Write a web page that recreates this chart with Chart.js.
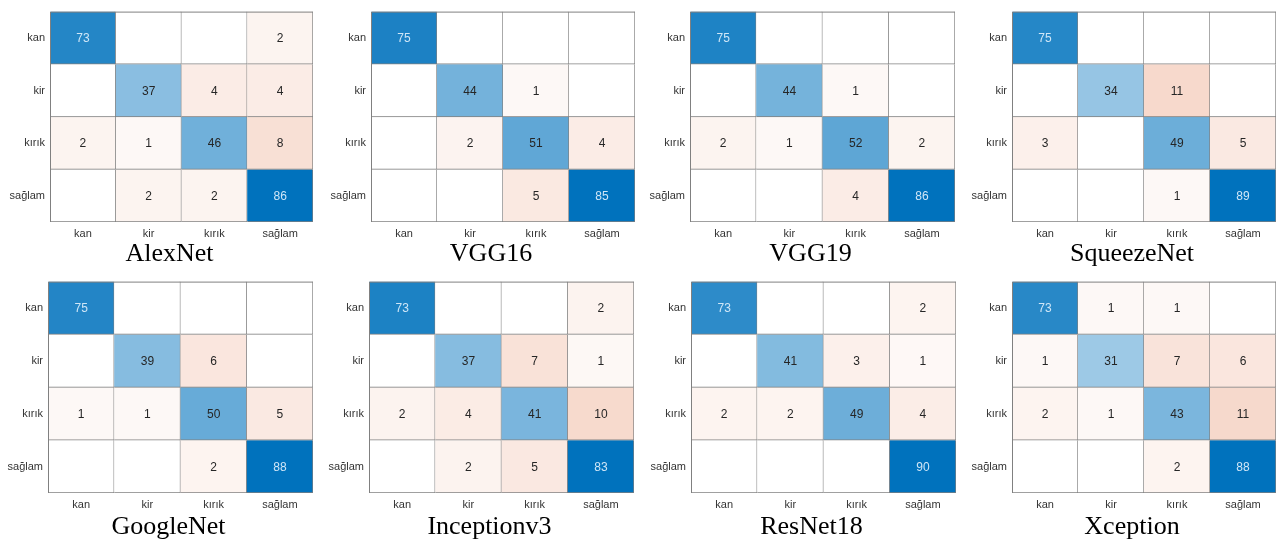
<!DOCTYPE html>
<html>
<head>
<meta charset="utf-8">
<script src="https://cdn.jsdelivr.net/npm/chart.js@4"></script>
<style>
  html, body { margin: 0; padding: 0; background: #ffffff; overflow: hidden; }
  body { width: 1277px; height: 543px; position: relative; }
  .panel { position: absolute; }
</style>
</head>
<body>
<div id="wrap"></div>
<script>
// ====== confusion matrices (rows = true class, cols = predicted) ======

const classes = ['kan', 'kir', 'kırık', 'sağlam'];

const alexnet    = [[73, 0, 0, 2], [0, 37, 4, 4], [2, 1, 46, 8], [0, 2, 2, 86]];
const vgg16      = [[75, 0, 0, 0], [0, 44, 1, 0], [0, 2, 51, 4], [0, 0, 5, 85]];
const vgg19      = [[75, 0, 0, 0], [0, 44, 1, 0], [2, 1, 52, 2], [0, 0, 4, 86]];
const squeezenet = [[75, 0, 0, 0], [0, 34, 11, 0], [3, 0, 49, 5], [0, 0, 1, 89]];
const googlenet  = [[75, 0, 0, 0], [0, 39, 6, 0], [1, 1, 50, 5], [0, 0, 2, 88]];
const inception  = [[73, 0, 0, 2], [0, 37, 7, 1], [2, 4, 41, 10], [0, 2, 5, 83]];
const resnet18   = [[73, 0, 0, 2], [0, 41, 3, 1], [2, 2, 49, 4], [0, 0, 0, 90]];
const xception   = [[73, 1, 1, 0], [1, 31, 7, 6], [2, 1, 43, 11], [0, 0, 2, 88]];

const modelNames = ['AlexNet', 'VGG16', 'VGG19', 'SqueezeNet',
                    'GoogleNet', 'Inceptionv3', 'ResNet18', 'Xception'];
const matrices = [alexnet, vgg16, vgg19, squeezenet,
                  googlenet, inception, resnet18, xception];

// ====== layout (pixel boxes of each grid) ======
const gridLeft  = [50, 371, 690, 1012, 48, 369, 691, 1012];
const gridRight = [313, 635, 955, 1276, 313, 634, 956, 1276];
const rowTop    = [0, 270];
const rowHeight = [270, 273];
const padTop    = [7, 8];
const xAxisH    = [19, 21];
const Y_LABEL_W = 50;
const EXTRA_R   = 26;   // empty strip on the right so the title sits left of grid centre

const DIAG_RGB = [0, 114, 189];
const OFF_RGB  = [217, 83, 25];
const LINE_COLOR = '#808080';

function mezcla(rgb, t) {
    const r = Math.round(255 + (rgb[0] - 255) * t);
    const g = Math.round(255 + (rgb[1] - 255) * t);
    const b = Math.round(255 + (rgb[2] - 255) * t);
    return `rgb(${r},${g},${b})`;
}

function cellColor(value, max, diagonal) {
    if (!value) return '#ffffff';
    if (diagonal) return mezcla(DIAG_RGB, Math.pow(value / max, 0.92));
    return mezcla(OFF_RGB, Math.pow(value / max, 0.72));
}

// numbers inside the cells + top/left frame
const cellText = {
    id: 'cellText',
    afterDatasetsDraw(chart) {
        const ctx = chart.ctx;
        const m = chart.options.plugins.cellText.matrix;
        const max = Math.max(...m.flat());
        ctx.save();
        ctx.font = '12px "Liberation Sans", Arial, sans-serif';
        ctx.textAlign = 'center';
        ctx.textBaseline = 'middle';
        chart.data.datasets.forEach((ds, r) => {
            chart.getDatasetMeta(r).data.forEach((bar, c) => {
                const v = m[r][c];
                if (!v) return;
                const light = r === c && v / max > 0.7;
                ctx.fillStyle = light ? '#cfe6f7' : '#262626';
                ctx.fillText(String(v), bar.x, (bar.y + bar.base) / 2 + 1);
            });
        });
        // outer top and left edges (cells only draw right/bottom)
        const a = chart.chartArea;
        ctx.strokeStyle = LINE_COLOR;
        ctx.lineWidth = 1;
        ctx.beginPath();
        ctx.moveTo(a.left + 0.5, a.bottom);
        ctx.lineTo(a.left + 0.5, a.top + 0.5);
        ctx.lineTo(a.right, a.top + 0.5);
        ctx.stroke();
        ctx.restore();
    }
};

const charts = [];

function dibujarMatriz(i) {
    const row = i < 4 ? 0 : 1;
    const m = matrices[i];
    const max = Math.max(...m.flat());

    const canvasLeft = gridLeft[i] - Y_LABEL_W;
    const width = gridRight[i] - gridLeft[i] + Y_LABEL_W + EXTRA_R;

    const box = document.createElement('div');
    box.className = 'panel';
    box.style.left = canvasLeft + 'px';
    box.style.top = rowTop[row] + 'px';
    box.style.width = width + 'px';
    box.style.height = rowHeight[row] + 'px';
    const canvas = document.createElement('canvas');
    box.appendChild(canvas);
    document.getElementById('wrap').appendChild(box);

    const datasets = classes.map((cls, r) => ({
        label: cls,
        data: classes.map(() => [r, r + 1]),
        backgroundColor: m[r].map((v, c) => cellColor(v, max, r === c)),
        borderColor: LINE_COLOR,
        borderWidth: { top: 0, left: 0, right: 1, bottom: 1 },
        borderSkipped: false,
        grouped: false,
        barPercentage: 1,
        categoryPercentage: 1
    }));

    const labelFont = { family: '"Liberation Sans", Arial, sans-serif', size: 11 };

    charts.push(new Chart(canvas, {
        type: 'bar',
        data: { labels: classes, datasets: datasets },
        options: {
            responsive: true,
            maintainAspectRatio: false,
            animation: false,
            events: [],
            layout: { padding: { top: padTop[row], right: 0, left: 0, bottom: 0 } },
            scales: {
                x: {
                    type: 'category',
                    grid: { display: false, drawTicks: false },
                    border: { display: false },
                    ticks: { color: '#333333', padding: 5, maxRotation: 0, font: labelFont },
                    afterFit(scale) { scale.height = xAxisH[row]; }
                },
                y: {
                    type: 'linear',
                    min: 0,
                    max: 4,
                    reverse: true,
                    grid: { display: false, drawTicks: false },
                    border: { display: false },
                    afterBuildTicks(scale) {
                        scale.ticks = classes.map((c, k) => ({ value: k + 0.5 }));
                    },
                    ticks: {
                        color: '#333333',
                        padding: 5,
                        font: labelFont,
                        callback: (val) => classes[Math.floor(val)]
                    },
                    afterFit(scale) { scale.width = Y_LABEL_W; }
                },
                // empty right strip, only there to widen the title box
                yr: {
                    type: 'linear',
                    position: 'right',
                    min: 0,
                    max: 4,
                    grid: { display: false, drawTicks: false },
                    border: { display: false },
                    ticks: { display: false },
                    afterFit(scale) { scale.width = EXTRA_R; }
                }
            },
            plugins: {
                legend: { display: false },
                tooltip: { enabled: false },
                title: {
                    display: true,
                    text: modelNames[i],
                    position: 'bottom',
                    color: '#000000',
                    padding: { top: 0, bottom: 3 },
                    font: { family: '"Liberation Serif", "Times New Roman", serif', size: 26, weight: 'normal', lineHeight: 1 }
                },
                cellText: { matrix: m }
            }
        },
        plugins: [cellText]
    }));
}

modelNames.forEach((name, i) => dibujarMatriz(i));
</script>
</body>
</html>
